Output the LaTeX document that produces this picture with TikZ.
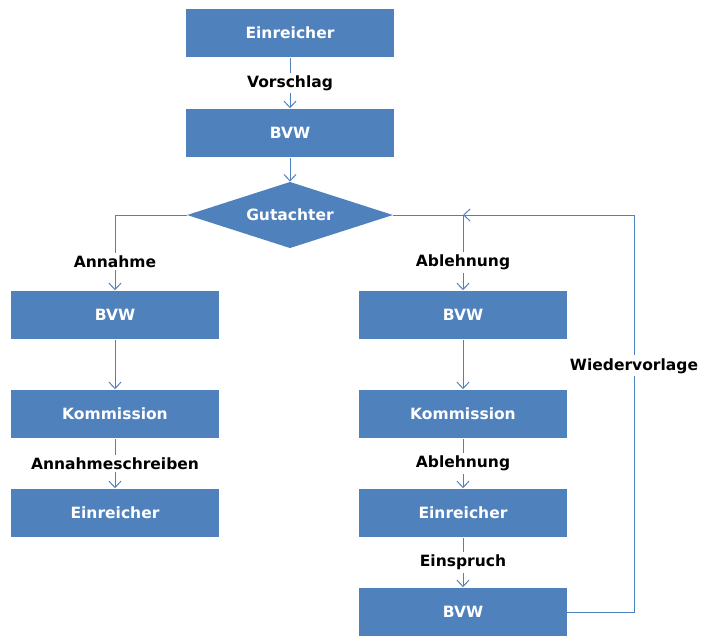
\documentclass[tikz,border=0pt]{standalone}
\usepackage{fontspec}
\setmainfont{DejaVu Sans}
\usetikzlibrary{positioning,shapes.geometric,arrows.meta}
\definecolor{boxblue}{HTML}{4F81BD}

\tikzset{
    box/.style={fill=boxblue, text=white, font=\fontsize{11}{13}\selectfont\bfseries,
        minimum width=147.5pt, minimum height=34.7pt, inner sep=0pt},
    gate/.style={diamond, fill=boxblue, text=white, font=\fontsize{11}{13}\selectfont\bfseries,
        aspect=3.1, minimum width=146pt, minimum height=47pt, inner sep=0pt},
    flow/.style={draw=boxblue, line width=0.7pt, -{Straight Barb[length=1.6mm, width=3mm]}},
    lbl/.style={fill=white, text=black, font=\fontsize{11}{13}\selectfont\bfseries, inner sep=2pt},
}

\begin{document}
\begin{tikzpicture}[x=0.709pt, y=-0.709pt]
    \useasboundingbox (0,0) rectangle (705,637);

    % Nodes
    \node[box] (einreicher) at (290,33) {Einreicher};
    \node[box] (bvw) at (290,133) {BVW};
    \node[gate] (gutachter) at (290,215) {Gutachter};

    \node[box] (bvwL) at (115,315) {BVW};
    \node[box] (kommL) at (115,414) {Kommission};
    \node[box] (einrL) at (115,513) {Einreicher};

    \node[box] (bvwR) at (463,315) {BVW};
    \node[box] (kommR) at (463,414) {Kommission};
    \node[box] (einrR) at (463,513) {Einreicher};
    \node[box] (bvwE) at (463,612) {BVW};

    \coordinate (split) at (bvwR.north |- gutachter.east);
    \coordinate (loop) at (634,215);

    % Arrows
    \draw[flow] (einreicher) -- node[lbl] {Vorschlag} (bvw);
    \draw[flow] (bvw) -- (gutachter);
    \draw[flow] (gutachter.west) -| node[lbl, pos=0.81] {Annahme} (bvwL);
    \draw[flow] (gutachter.east) -- (split) -- node[lbl, pos=0.63] {Ablehnung} (bvwR);

    \draw[flow] (bvwL) -- (kommL);
    \draw[flow] (kommL) -- node[lbl] {Annahmeschreiben} (einrL);

    \draw[flow] (bvwR) -- (kommR);
    \draw[flow] (kommR) -- node[lbl] {Ablehnung} (einrR);
    \draw[flow] (einrR) -- node[lbl] {Einspruch} (bvwE);
    \draw[flow] (bvwE.east) -| node[lbl, pos=0.81] {Wiedervorlage} (loop) -- (split);
\end{tikzpicture}
\end{document}
